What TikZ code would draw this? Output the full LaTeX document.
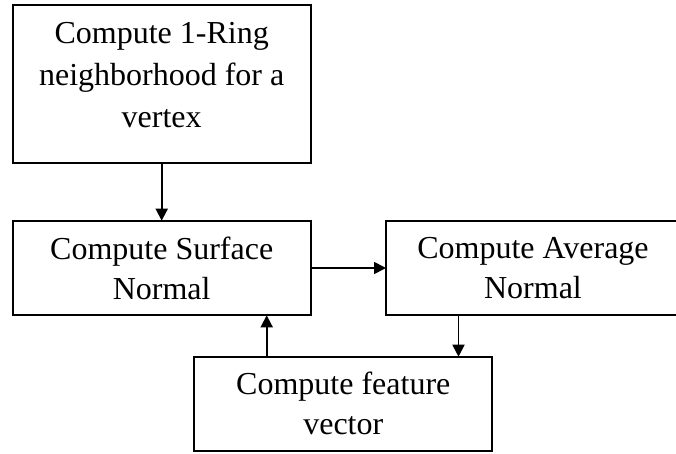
\documentclass[tikz,border=0pt]{standalone}
\usepackage{fontspec}
\setmainfont{Liberation Serif}
\usetikzlibrary{arrows.meta, positioning}

\begin{document}
\begin{tikzpicture}[
    x=1pt, y=-1pt,
    node distance=58pt and 75.3pt,
    box/.style={rectangle, draw, line width=1.8pt, align=center, inner sep=0pt, outer sep=0pt, minimum width=298pt, minimum height=94.6pt, font=\fontsize{32}{40}\selectfont},
    boxtext/.style={align=center, inner sep=0pt, font=\fontsize{32}{42}\selectfont},
    arrow/.style={-{Triangle[length=12pt, width=12pt]}, line width=1.8pt},
]
    \useasboundingbox (0,0) rectangle (676,453);

    % Ring neighborhood
    \node[box, anchor=north west, minimum height=157.4pt,
          label={[boxtext, yshift=9pt]center:{Compute 1-Ring\\neighborhood for a\\vertex}}] (ring) at (12.7,5.3) {};

    % Normals
    \node[box, below=of ring] (surf) {Compute Surface\\Normal};
    \node[box, right=of surf, minimum width=294pt] (avg) {Compute Average\\Normal};

    % Feature vector
    \node[box, minimum height=94pt, below right=41.4pt and 181.6pt of surf.south west] (feat) {Compute feature\\vector};

    % Connections
    \draw[arrow] (ring) -- (surf);
    \draw[arrow] (surf) -- (avg);
    \draw[arrow] ([xshift=-74.5pt]avg.south) -- ([xshift=-74.5pt]avg.south |- feat.north);
    \draw[arrow] ([xshift=-76.6pt]feat.north) -- ([xshift=-76.6pt]feat.north |- surf.south);
\end{tikzpicture}
\end{document}
